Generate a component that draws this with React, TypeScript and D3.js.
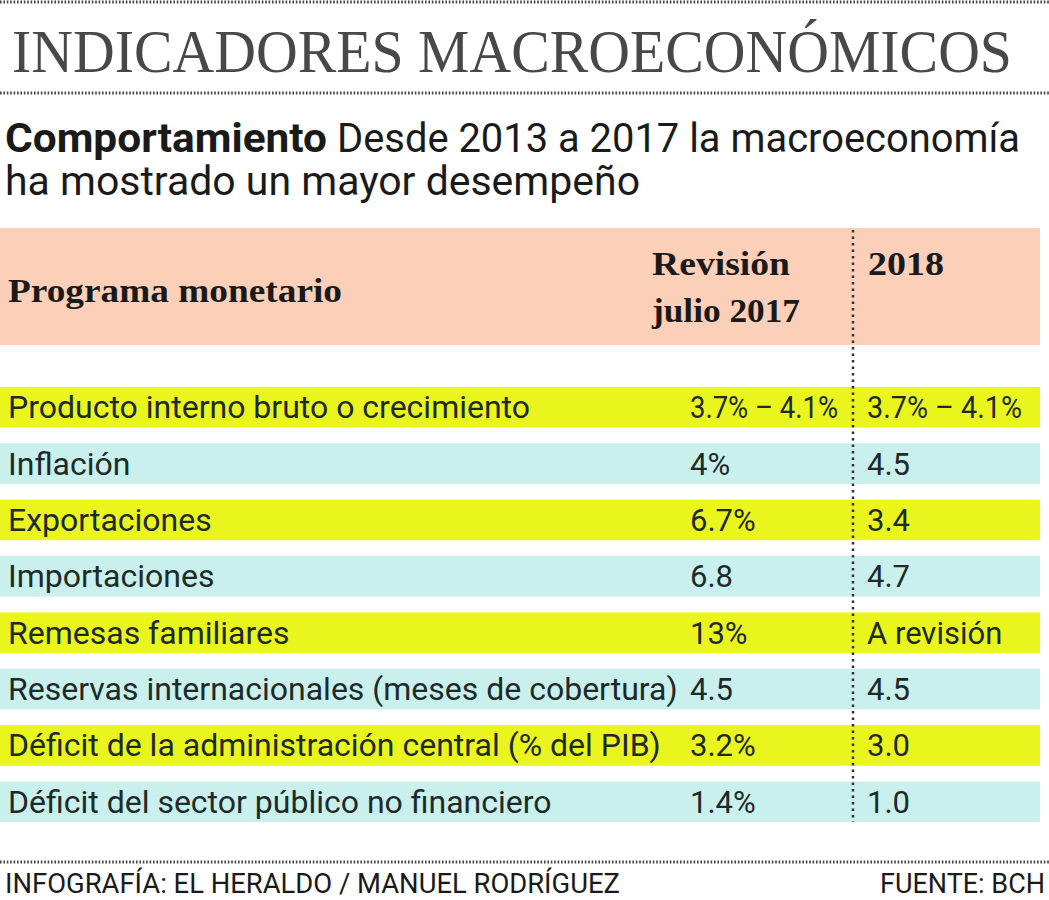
import React from "react";
import * as d3 from "d3";

const indicators = [
  "Producto interno bruto o crecimiento",
  "Inflación",
  "Exportaciones",
  "Importaciones",
  "Remesas familiares",
  "Reservas internacionales (meses de cobertura)",
  "Déficit de la administración central (% del PIB)",
  "Déficit del sector público no financiero",
];
const revision2017 = ["3.7% – 4.1%", "4%", "6.7%", "6.8", "13%", "4.5", "3.2%", "1.4%"];
const proj2018 = ["3.7%  – 4.1%", "4.5", "3.4", "4.7", "A revisión", "4.5", "3.0", "1.0"];
const headerLabels = ["Programa monetario", "Revisión", "julio 2017", "2018"];
const titleText = "INDICADORES MACROECONÓMICOS";
const subtitleBold = "Comportamiento";
const subtitleRest = "Desde 2013 a 2017 la macroeconomía";
const subtitleLine2 = "ha mostrado un mayor desempeño";
const creditText = "INFOGRAFÍA: EL HERALDO / MANUEL RODRÍGUEZ";
const sourceText = "FUENTE: BCH";

const W = 1049;
const H = 900;
const rowColors = ["#e9f51c", "#c9f0ec"];
const sans = "Roboto, 'Noto Sans', sans-serif";
const serif = "'Liberation Serif', 'DejaVu Serif', serif";

export default function App() {
  const y = d3
    .scaleBand<string>()
    .domain(indicators)
    .range([379, 830])
    .paddingInner(0.28)
    .paddingOuter(0.14);
  const col = d3.scaleOrdinal<string, number>().domain(["label", "rev", "y2018"]).range([8, 690, 867]);
  const bw = y.bandwidth();
  const rangeWidth = (v: string, w: number) =>
    v.includes("–") ? { textLength: w, lengthAdjust: "spacingAndGlyphs" as const } : {};

  return (
    <svg
      width={W}
      height={H}
      style={{ position: "absolute", left: 0, top: 0, background: "#fff" }}
      xmlns="http://www.w3.org/2000/svg"
    >
      <rect x={0} y={0} width={W} height={H} fill="#fff" />
      <line x1={0} x2={W} y1={2} y2={2} stroke="#444" strokeWidth={3} strokeDasharray="1.6,1.8" />
      <text
        x={12}
        y={72}
        fontFamily={serif}
        fontSize={62}
        fill="#484848"
        textLength={1000}
        lengthAdjust="spacingAndGlyphs"
      >
        {titleText}
      </text>
      <line x1={0} x2={W} y1={93} y2={93} stroke="#444" strokeWidth={3} strokeDasharray="1.6,1.8" />

      <text x={5} y={152} fontFamily={sans} fontWeight={700} fontSize={40} fill="#1a1a1a" textLength={322} lengthAdjust="spacingAndGlyphs">
        {subtitleBold}
      </text>
      <text x={337} y={152} fontFamily={sans} fontSize={40} fill="#1a1a1a" textLength={683} lengthAdjust="spacingAndGlyphs">
        {subtitleRest}
      </text>
      <text x={5} y={195} fontFamily={sans} fontSize={40} fill="#1a1a1a" textLength={635} lengthAdjust="spacingAndGlyphs">
        {subtitleLine2}
      </text>

      <rect x={0} y={228} width={1040} height={117} fill="#fbcfb8" />
      <text x={8} y={302} fontFamily={serif} fontWeight={700} fontSize={33} fill="#1a1a1a" textLength={334} lengthAdjust="spacingAndGlyphs">
        {headerLabels[0]}
      </text>
      <text x={652} y={275} fontFamily={serif} fontWeight={700} fontSize={34} fill="#1a1a1a" textLength={138} lengthAdjust="spacingAndGlyphs">
        {headerLabels[1]}
      </text>
      <text x={652} y={322} fontFamily={serif} fontWeight={700} fontSize={34} fill="#1a1a1a" textLength={148} lengthAdjust="spacingAndGlyphs">
        {headerLabels[2]}
      </text>
      <text x={868} y={275} fontFamily={serif} fontWeight={700} fontSize={34} fill="#1a1a1a" textLength={76} lengthAdjust="spacingAndGlyphs">
        {headerLabels[3]}
      </text>

      {indicators.map((d, i) => {
        const top = y(d) as number;
        const base = top + bw / 2 + 11;
        return (
          <g key={d}>
            <rect x={0} y={top} width={1040} height={bw} fill={rowColors[i % 2]} />
            <text x={col("label")} y={base} fontFamily={sans} fontSize={32} fill="#1e2a2a">
              {d}
            </text>
            <text x={col("rev")} y={base} fontFamily={sans} fontSize={31} fill="#1e2a2a" {...rangeWidth(revision2017[i], 148)}>
              {revision2017[i]}
            </text>
            <text x={col("y2018")} y={base} fontFamily={sans} fontSize={31} fill="#1e2a2a" {...rangeWidth(proj2018[i], 155)}>
              {proj2018[i]}
            </text>
          </g>
        );
      })}

      <line
        x1={853}
        x2={853}
        y1={230}
        y2={(y(indicators[indicators.length - 1]) as number) + bw}
        stroke="#333"
        strokeWidth={2.5}
        strokeDasharray="2.5,4"
      />

      <line x1={0} x2={W} y1={862} y2={862} stroke="#444" strokeWidth={3} strokeDasharray="1.6,1.8" />
      <text x={5} y={893} fontFamily={sans} fontSize={27} fill="#1a1a1a" textLength={615} lengthAdjust="spacingAndGlyphs">
        {creditText}
      </text>
      <text x={1045} y={893} fontFamily={sans} fontSize={27} fill="#1a1a1a" textAnchor="end">
        {sourceText}
      </text>
    </svg>
  );
}
